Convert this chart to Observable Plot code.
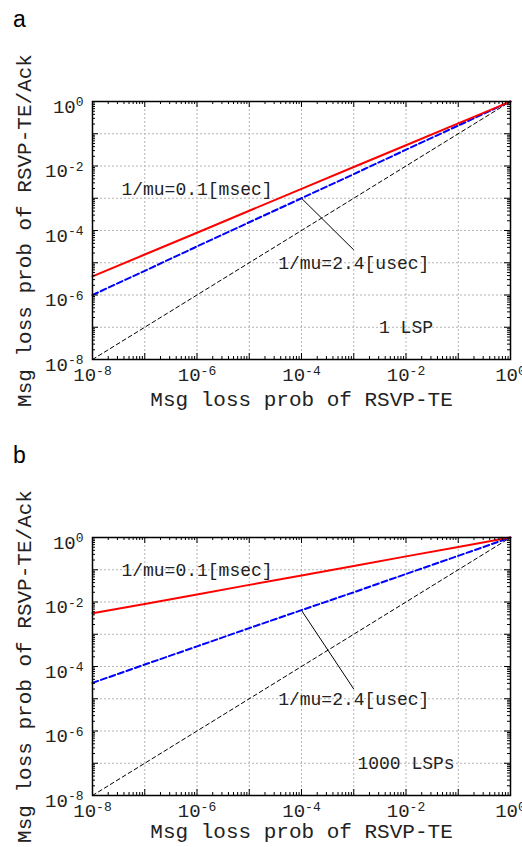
<!DOCTYPE html>
<html><head><meta charset="utf-8">
<script src="https://cdn.jsdelivr.net/npm/d3@7"></script>
<script src="https://cdn.jsdelivr.net/npm/@observablehq/plot@0.6"></script>
<style>
body{margin:0;background:#fff;width:522px;height:847px;position:relative;overflow:hidden}
.panel{position:absolute;left:0;z-index:1}
.tag{position:absolute;left:13px;font-family:"Liberation Sans",Arial,sans-serif;font-size:23px;line-height:23px;color:#000;z-index:2}
</style></head><body>
<div id="pa" class="panel" style="top:0"></div>
<div id="pb" class="panel" style="top:436px"></div>
<div class="tag" style="top:8px">a</div>
<div class="tag" style="top:444px">b</div>
<script>
// ---- data ----
const xs     = [1e-8, 1e-7, 1e-6, 1e-5, 1e-4, 1e-3, 1e-2, 1e-1, 1];
const redA   = [3.8e-6, 1.8e-5, 8.5e-5, 4.1e-4, 1.95e-3, 9.3e-3, 4.4e-2, 0.21, 1];
const blueA  = [1.0e-6, 5.6e-6, 3.2e-5, 1.8e-4, 1.0e-3, 5.6e-3, 3.2e-2, 0.18, 1];
const redB   = [4.5e-3, 8.7e-3, 1.7e-2, 3.4e-2, 6.6e-2, 0.13, 0.26, 0.51, 1];
const blueB  = [3.1e-5, 1.15e-4, 4.2e-4, 1.55e-3, 5.6e-3, 2.0e-2, 7.4e-2, 0.27, 1];
const diagX  = [1e-8, 1];
const diagY  = [1e-8, 1];
const tickLabelValues = [1e-8, 1e-6, 1e-4, 1e-2, 1];
const decades = [1e-8, 1e-7, 1e-6, 1e-5, 1e-4, 1e-3, 1e-2, 1e-1, 1];
const annTextA = ["1/mu=0.1[msec]", "1/mu=2.4[usec]", "1 LSP"];
const annXA    = [1e-6, 1e-3, 1e-2];
const annYA    = [1.9e-3, 1e-5, 1e-7];
const annTextB = ["1/mu=0.1[msec]", "1/mu=2.4[usec]", "1000 LSPs"];
const annXB    = [1e-6, 1e-3, 1e-2];
const annYB    = [1e-1, 1e-5, 1e-7];
const leaderA  = {x1: 1e-4, y1: 1e-3,   x2: 1e-3, y2: 2.5e-5};
const leaderB  = {x1: 1e-4, y1: 5.5e-3, x2: 1e-3, y2: 2e-5};
const xLabel = "Msg loss prob of RSVP-TE";
const yLabel = "Msg loss prob of RSVP-TE/Ack";

// minor ticks (2..9 x 10^k)
const minor = [];
for (let k = -8; k < 0; k++) for (let m = 2; m <= 9; m++) minor.push(m * Math.pow(10, k));

const W = 522, H = 411, ML = 92, MR = 12, MT = 101, MB = 52;
const PW = W - ML - MR, PH = H - MT - MB;
const FONT = "'Liberation Mono', 'DejaVu Sans Mono', monospace";

function panel(red, blue, annText, annX, annY, leader, xlabDy) {
  const series = xs.map((x, i) => ({x, red: red[i], blue: blue[i]}));
  const diag = diagX.map((x, i) => ({x, y: diagY[i]}));
  const ann = annText.map((t, i) => ({t, x: annX[i], y: annY[i]}));
  const grid = {stroke: "#b4b4b4", strokeOpacity: 1, strokeDasharray: "2,2", strokeWidth: 1};
  const svg = Plot.plot({
    width: W, height: H, marginLeft: ML, marginRight: MR, marginTop: MT, marginBottom: MB,
    x: {type: "log", domain: [1e-8, 1]},
    y: {type: "log", domain: [1e-8, 1]},
    style: {fontFamily: FONT, background: "white", color: "black"},
    marks: [
      Plot.gridX({ticks: decades, ...grid}),
      Plot.gridY({ticks: decades, ...grid}),
      Plot.line(diag, {x: "x", y: "y", stroke: "black", strokeWidth: 1, strokeDasharray: "4,3"}),
      Plot.line(series, {x: "x", y: "blue", stroke: "#0000ff", strokeWidth: 2, strokeDasharray: "6,3"}),
      Plot.line(series, {x: "x", y: "red", stroke: "#ff0000", strokeWidth: 2}),
      Plot.link([leader], {x1: "x1", y1: "y1", x2: "x2", y2: "y2", stroke: "black", strokeWidth: 1}),
      Plot.text(ann, {x: "x", y: "y", text: "t", fontSize: 18, fill: "#222", fontFamily: FONT}),
      // inward ticks, all four sides
      Plot.tickX(decades, {x: d => d, insetTop: PH - 6, stroke: "black"}),
      Plot.tickX(decades, {x: d => d, insetBottom: PH - 6, stroke: "black"}),
      Plot.tickX(minor, {x: d => d, insetTop: PH - 3, stroke: "black"}),
      Plot.tickX(minor, {x: d => d, insetBottom: PH - 3, stroke: "black"}),
      Plot.tickY(decades, {y: d => d, insetRight: PW - 6, stroke: "black"}),
      Plot.tickY(decades, {y: d => d, insetLeft: PW - 6, stroke: "black"}),
      Plot.tickY(minor, {y: d => d, insetRight: PW - 3, stroke: "black"}),
      Plot.tickY(minor, {y: d => d, insetLeft: PW - 3, stroke: "black"}),
      Plot.frame({stroke: "black", strokeWidth: 1.5}),
      Plot.axisX({ticks: tickLabelValues, tickSize: 0, tickPadding: 8, fontSize: 19, label: null,
        tickFormat: d => "10^" + Math.round(Math.log10(d))}),
      Plot.axisY({ticks: tickLabelValues, tickSize: 0, tickPadding: 9, fontSize: 19, label: null, dy: 5,
        tickFormat: d => "10^" + Math.round(Math.log10(d))}),
      Plot.text([xLabel], {frameAnchor: "bottom", dy: xlabDy, fontSize: 21, fill: "#222", lineAnchor: "middle", textAnchor: "middle"}),
      Plot.text([yLabel], {frameAnchor: "left", dx: -68, rotate: -90, fontSize: 21, fill: "#222", lineAnchor: "middle", textAnchor: "middle"})
    ]
  });
  const ns = "http://www.w3.org/2000/svg";
  svg.querySelectorAll('g[aria-label$="tick label"] text').forEach(t => {
    const s = t.textContent;
    if (!s.includes("^")) return;
    const [b, e] = s.split("^");
    t.textContent = "";
    const t1 = document.createElementNS(ns, "tspan"); t1.textContent = b; t.appendChild(t1);
    const t2 = document.createElementNS(ns, "tspan");
    t2.setAttribute("dy", "-0.5em"); t2.setAttribute("font-size", "13"); t2.textContent = e;
    t.appendChild(t2);
    t.setAttribute("fill", "#222");
  });
  return svg;
}

document.getElementById("pa").appendChild(panel(redA, blueA, annTextA, annXA, annYA, leaderA, 40));
document.getElementById("pb").appendChild(panel(redB, blueB, annTextB, annXB, annYB, leaderB, 36));
</script>
</body></html>
